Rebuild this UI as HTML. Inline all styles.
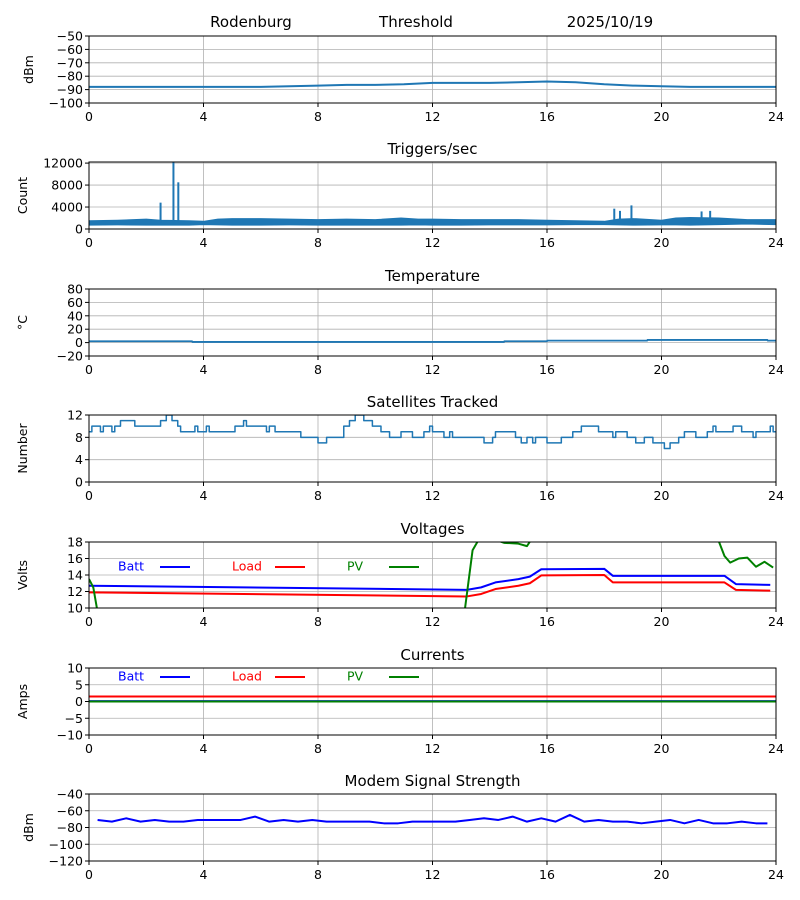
<!DOCTYPE html>
<html><head><meta charset="utf-8"><style>
body{margin:0;background:#fff;}
svg{display:block;font-family:"DejaVu Sans","Liberation Sans",sans-serif;}
</style></head><body>
<svg id="fig" width="800" height="900" viewBox="0 0 800 900">
<text x="251" y="27" font-size="15" text-anchor="middle">Rodenburg</text>
<text x="416" y="27" font-size="15" text-anchor="middle">Threshold</text>
<text x="610" y="27" font-size="15" text-anchor="middle">2025/10/19</text>
</svg>
<script>
const xTicks=[0,4,8,12,16,20,24];
// RSSI dBm
const rssiT=[0,1,2,3,4,5,6,7,8,9,10,11,12,13,14,15,16,17,18,19,20,21,22,23,24];
const rssiV=[-88,-88,-88,-88,-88,-88,-88,-87.5,-87,-86.5,-86.5,-86,-85,-85,-85,-84.5,-84,-84.5,-86,-87,-87.5,-88,-88,-88,-88];
// Triggers band
const trigT=[0,1,2,2.5,3.5,4,4.5,5,6,7,8,9,10,10.9,11.5,12,13,14,15,16,17,18,18.5,19,20,20.5,21,22,23,24];
const trigLow=[700,750,700,700,700,800,750,700,700,750,700,700,700,700,750,700,700,750,750,750,800,800,750,700,750,750,700,800,900,800];
const trigHigh=[1500,1600,1800,1600,1500,1400,1800,1900,1900,1800,1700,1800,1700,2000,1800,1800,1700,1700,1700,1600,1500,1400,1800,1900,1600,2000,2100,2000,1700,1700];
const spikeT=[2.5,2.95,3.12,18.35,18.55,18.95,21.4,21.7];
const spikeV=[4800,12300,8500,3700,3300,4300,3200,3300];
// Temperature
const tempT=[0,3.6,3.61,14.5,14.51,16,16.01,19.5,19.51,23.7,23.71,24];
const tempV=[2,2,1,1,2,2,3,3,4,4,3,3];
// Satellites (step)
const satT=[0,0.1,0.4,0.5,0.8,0.9,1.1,1.6,2.5,2.7,2.9,3.1,3.2,3.7,3.8,4.1,4.2,5.1,5.4,5.5,6.2,6.3,6.5,7.4,8.0,8.3,8.9,9.1,9.3,9.6,9.9,10.2,10.5,10.9,11.3,11.7,11.9,12.0,12.4,12.6,12.7,13.8,14.1,14.2,14.9,15.1,15.3,15.5,15.6,16.0,16.5,16.9,17.2,17.8,18.3,18.4,18.8,19.1,19.4,19.7,20.1,20.3,20.6,20.8,21.2,21.6,21.8,21.9,22.5,22.8,23.2,23.3,23.8,23.9,24];
const satV=[9,10,9,10,9,10,11,10,11,12,11,10,9,10,9,10,9,10,11,10,9,10,9,8,7,8,10,11,12,11,10,9,8,9,8,9,10,9,8,9,8,7,8,9,8,7,8,7,8,7,8,9,10,9,8,9,8,7,8,7,6,7,8,9,8,9,10,9,10,9,8,9,10,9,9];
// Voltages
const battT=[0,13.2,13.7,14.2,15,15.4,15.8,18,18.3,22.2,22.6,23.8];
const battV=[12.7,12.2,12.5,13.1,13.5,13.8,14.7,14.75,13.9,13.9,12.9,12.8];
const loadT=[0,13.2,13.7,14.2,15,15.4,15.8,18,18.3,22.2,22.6,23.8];
const loadV=[11.9,11.4,11.7,12.3,12.7,13.0,13.95,14.0,13.1,13.1,12.2,12.1];
const pvT=[0,0.15,0.3,0.35,13.05,13.1,13.4,13.6,14,14.5,15,15.3,15.45,21.9,22.2,22.4,22.7,23,23.3,23.6,23.9];
const pvV=[13.5,12.5,9.5,0,0,9,17,18.2,18.5,17.9,17.8,17.5,18.3,19,16.3,15.5,16,16.1,15,15.6,14.9];
// Currents
const curT=[0,24];
const battA=[0.1,0.1];
const loadA=[1.5,1.5];
const pvA=[0,0];
// Modem signal
const modT=[0.3,0.8,1.3,1.8,2.3,2.8,3.3,3.8,4.3,4.8,5.3,5.8,6.3,6.8,7.3,7.8,8.3,8.8,9.3,9.8,10.3,10.8,11.3,11.8,12.3,12.8,13.3,13.8,14.3,14.8,15.3,15.8,16.3,16.8,17.3,17.8,18.3,18.8,19.3,19.8,20.3,20.8,21.3,21.8,22.3,22.8,23.3,23.7];
const modV=[-71,-73,-69,-73,-71,-73,-73,-71,-71,-71,-71,-67,-73,-71,-73,-71,-73,-73,-73,-73,-75,-75,-73,-73,-73,-73,-71,-69,-71,-67,-73,-69,-73,-65,-73,-71,-73,-73,-75,-73,-71,-75,-71,-75,-75,-73,-75,-75];

const NS="http://www.w3.org/2000/svg";
const svg=document.getElementById('fig');
const X0=89,X1=776;
function el(tag,attrs,parent){const e=document.createElementNS(NS,tag);for(const k in attrs)e.setAttribute(k,attrs[k]);(parent||svg).appendChild(e);return e;}
function sx(t){return X0+(t/24)*(X1-X0);}
function panel(key,top,bot,ymin,ymax,yticks,title,ylabel){
  const g=el('g',{});
  
  
  const sy=v=>bot-(v-ymin)/(ymax-ymin)*(bot-top);
  const clipId='clip-'+key;
  const cp=el('clipPath',{id:clipId},g);el('rect',{x:X0,y:top,width:X1-X0,height:bot-top},cp);
  xTicks.forEach(t=>{const l=el('line',{x1:sx(t),x2:sx(t),y1:top,y2:bot,stroke:'#b0b0b0','stroke-width':0.8},g);
    });
  yticks.forEach(v=>{const l=el('line',{x1:X0,x2:X1,y1:sy(v),y2:sy(v),stroke:'#b0b0b0','stroke-width':0.8},g);
    });
  const plot=el('g',{'clip-path':'url(#'+clipId+')'},g);
  
  const fr=el('rect',{x:X0,y:top,width:X1-X0,height:bot-top,fill:'none',stroke:'#000','stroke-width':1},g);
  
  xTicks.forEach(t=>{el('line',{x1:sx(t),x2:sx(t),y1:bot,y2:bot+4,stroke:'#000'},g);
    const tx=el('text',{x:sx(t),y:bot+18,'font-size':12.5,'text-anchor':'middle'},g);tx.textContent=t;
    });
  yticks.forEach(v=>{el('line',{x1:X0-4,x2:X0,y1:sy(v),y2:sy(v),stroke:'#000'},g);
    const tx=el('text',{x:X0-6,y:sy(v)+4.5,'font-size':12.5,'text-anchor':'end'},g);tx.textContent=String(v).replace('-','\u2212');
    });
  const ti=el('text',{x:(X0+X1)/2,y:top-8,'font-size':15,'text-anchor':'middle'},g);ti.textContent=title;
  
  const yl=el('text',{x:0,y:0,'font-size':12.5,'text-anchor':'middle',transform:`translate(${key==='rssi'||key==='modem'?33:27},${(top+bot)/2}) rotate(-90)`},g);yl.textContent=ylabel;
  
  return {plot,sy};
}
function line(p,ts,vs,color,w,name,step){
  let d='';
  ts.forEach((t,i)=>{
    if(i===0)d+='M'+sx(t)+','+p.sy(vs[i]);
    else if(step)d+='H'+sx(t)+'V'+p.sy(vs[i]);
    else d+='L'+sx(t)+','+p.sy(vs[i]);
  });
  const e=el('path',{d,fill:'none',stroke:color,'stroke-width':w,'stroke-linejoin':'round'},p.plot);
  
  return e;
}
function legend(ly,key){
  const items=[['Batt','#0000ff',118,160],['Load','#ff0000',232,275],['PV','#008000',347,389]];
  items.forEach(([n,c,tx,lx])=>{
    const t=el('text',{x:tx,y:ly+4.5,'font-size':12.5,fill:c});t.textContent=n;
    
    const l=el('line',{x1:lx,x2:lx+30,y1:ly+1,y2:ly+1,stroke:c,'stroke-width':2});
    
  });
}
const C='#1f77b4';
let p=panel('rssi',36,103,-100,-50,[-50,-60,-70,-80,-90,-100],'','dBm');
line(p,rssiT,rssiV,C,2,'rssi-line');
p=panel('triggers',162,229,0,12200,[0,4000,8000,12000],'Triggers/sec','Count');
{let d='';trigT.forEach((t,i)=>{d+=(i?'L':'M')+sx(t)+','+p.sy(trigHigh[i]);});
 for(let i=trigT.length-1;i>=0;i--)d+='L'+sx(trigT[i])+','+p.sy(trigLow[i]);d+='Z';
 const b=el('path',{d,fill:C,stroke:C,'stroke-width':1},p.plot);
 spikeT.forEach((t,i)=>{const s=el('line',{x1:sx(t),x2:sx(t),y1:p.sy(1200),y2:p.sy(spikeV[i]),stroke:C,'stroke-width':2},p.plot);
   });}
p=panel('temperature',289,356,-20,80,[80,60,40,20,0,-20],'Temperature','\u00B0C');
line(p,tempT,tempV,C,1.8,'temperature-line');
p=panel('satellites',415,482,0,12,[0,4,8,12],'Satellites Tracked','Number');
line(p,satT,satV,C,1.5,'satellites-line',true);
p=panel('voltages',542,608,10,18,[10,12,14,16,18],'Voltages','Volts');
line(p,battT,battV,'#0000ff',2,'batt-voltage-line');
line(p,loadT,loadV,'#ff0000',2,'load-voltage-line');
line(p,pvT,pvV,'#008000',2,'pv-voltage-line');
legend(566,'voltages');
p=panel('currents',668,735,-10,10,[10,5,0,-5,-10],'Currents','Amps');
line(p,curT,battA,'#0000ff',2,'batt-current-line');
line(p,curT,loadA,'#ff0000',2,'load-current-line');
line(p,curT,pvA,'#008000',2,'pv-current-line');
legend(676,'currents');
p=panel('modem',794,861,-120,-40,[-40,-60,-80,-100,-120],'Modem Signal Strength','dBm');
line(p,modT,modV,'#0000ff',2,'modem-signal-line');
</script>
</body></html>
